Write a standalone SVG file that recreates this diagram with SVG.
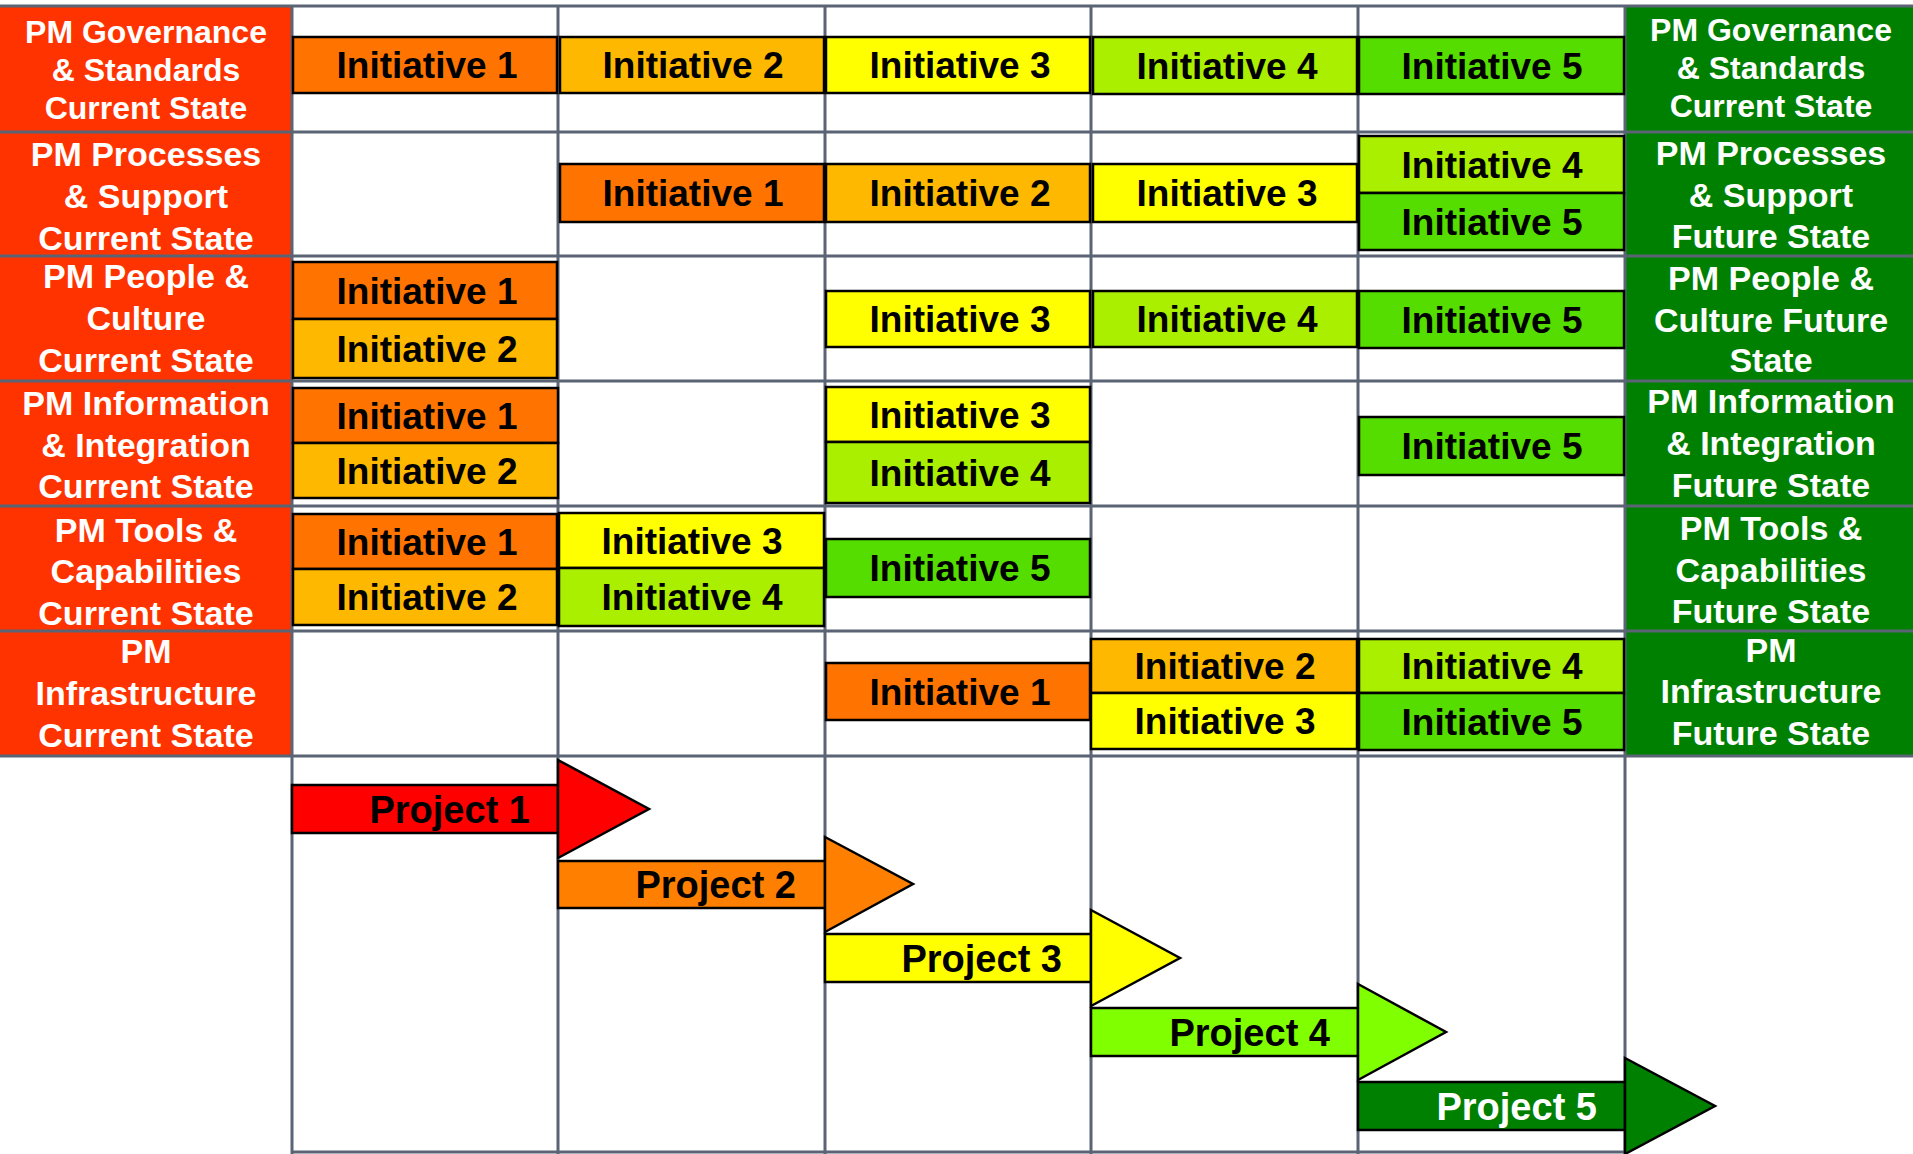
<svg xmlns="http://www.w3.org/2000/svg" width="1913" height="1154" viewBox="0 0 1913 1154">
<style>
.bx{stroke:#000;stroke-width:2.5}
.it{font-family:"Liberation Sans",Arial,sans-serif;font-weight:bold;font-size:37px;text-anchor:middle;fill:#000}
.pt{font-family:"Liberation Sans",Arial,sans-serif;font-weight:bold;font-size:38px;text-anchor:end;fill:#000}
.lb{font-family:"Liberation Sans",Arial,sans-serif;font-weight:bold;font-size:34px;text-anchor:middle;fill:#fff}
.lb0{font-size:32px}
.grid{stroke:#5B6475;stroke-width:3;fill:none}
.cur{fill:#FF3300}
.fut{fill:#008000}
.i1{fill:#FF7400}.i2{fill:#FFB800}.i3{fill:#FFFF00}.i4{fill:#AAEE00}.i5{fill:#55DD00}
.pa{stroke:#000;stroke-width:2.5}
</style>
<rect width="1913" height="1154" fill="#fff"/>

<g id="labels-current">
<rect class="cur" x="0" y="7" width="292" height="749"/>
</g>
<g id="labels-future">
<rect class="fut" x="1625" y="7" width="288" height="749"/>
</g>

<g id="grid" class="grid">
<line x1="0" y1="6" x2="1913" y2="6"/>
<line x1="0" y1="132" x2="1913" y2="132"/>
<line x1="0" y1="256" x2="1913" y2="256"/>
<line x1="0" y1="381" x2="1913" y2="381"/>
<line x1="0" y1="506" x2="1913" y2="506"/>
<line x1="0" y1="631" x2="1913" y2="631"/>
<line x1="0" y1="756" x2="1913" y2="756"/>
<line x1="292" y1="1152" x2="1625" y2="1152"/>
<line x1="292" y1="6" x2="292" y2="1154"/>
<line x1="558" y1="6" x2="558" y2="1154"/>
<line x1="825" y1="6" x2="825" y2="1154"/>
<line x1="1091" y1="6" x2="1091" y2="1154"/>
<line x1="1358" y1="6" x2="1358" y2="1154"/>
<line x1="1625" y1="6" x2="1625" y2="1154"/>
</g>

<g id="label-governance-current"><text class="lb lb0" x="146"><tspan x="146" y="43">PM Governance</tspan><tspan x="146" y="81">&amp; Standards</tspan><tspan x="146" y="119">Current State</tspan></text></g>
<g id="label-processes-current"><text class="lb" x="146"><tspan x="146" y="166">PM Processes</tspan><tspan x="146" y="208">&amp; Support</tspan><tspan x="146" y="250">Current State</tspan></text></g>
<g id="label-people-current"><text class="lb" x="146"><tspan x="146" y="288">PM People &amp;</tspan><tspan x="146" y="330">Culture</tspan><tspan x="146" y="372">Current State</tspan></text></g>
<g id="label-information-current"><text class="lb" x="146"><tspan x="146" y="415">PM Information</tspan><tspan x="146" y="457">&amp; Integration</tspan><tspan x="146" y="498">Current State</tspan></text></g>
<g id="label-tools-current"><text class="lb" x="146"><tspan x="146" y="542">PM Tools &amp;</tspan><tspan x="146" y="583">Capabilities</tspan><tspan x="146" y="625">Current State</tspan></text></g>
<g id="label-infrastructure-current"><text class="lb" x="146"><tspan x="146" y="663">PM</tspan><tspan x="146" y="705">Infrastructure</tspan><tspan x="146" y="747">Current State</tspan></text></g>

<g id="label-governance-future"><text class="lb lb0" x="1771"><tspan x="1771" y="41">PM Governance</tspan><tspan x="1771" y="79">&amp; Standards</tspan><tspan x="1771" y="117">Current State</tspan></text></g>
<g id="label-processes-future"><text class="lb" x="1771"><tspan x="1771" y="165">PM Processes</tspan><tspan x="1771" y="207">&amp; Support</tspan><tspan x="1771" y="248">Future State</tspan></text></g>
<g id="label-people-future"><text class="lb" x="1771"><tspan x="1771" y="290">PM People &amp;</tspan><tspan x="1771" y="332">Culture Future</tspan><tspan x="1771" y="372">State</tspan></text></g>
<g id="label-information-future"><text class="lb" x="1771"><tspan x="1771" y="413">PM Information</tspan><tspan x="1771" y="455">&amp; Integration</tspan><tspan x="1771" y="497">Future State</tspan></text></g>
<g id="label-tools-future"><text class="lb" x="1771"><tspan x="1771" y="540">PM Tools &amp;</tspan><tspan x="1771" y="582">Capabilities</tspan><tspan x="1771" y="623">Future State</tspan></text></g>
<g id="label-infrastructure-future"><text class="lb" x="1771"><tspan x="1771" y="662">PM</tspan><tspan x="1771" y="703">Infrastructure</tspan><tspan x="1771" y="745">Future State</tspan></text></g>

<!-- Row 0 -->
<g id="r0-i1"><rect class="bx i1" x="293" y="37" width="264" height="56"/><text class="it" x="427" y="78">Initiative 1</text></g>
<g id="r0-i2"><rect class="bx i2" x="560" y="37" width="264" height="56"/><text class="it" x="693" y="78">Initiative 2</text></g>
<g id="r0-i3"><rect class="bx i3" x="826" y="37" width="264" height="56"/><text class="it" x="960" y="78">Initiative 3</text></g>
<g id="r0-i4"><rect class="bx i4" x="1093" y="37" width="264" height="57"/><text class="it" x="1227" y="79">Initiative 4</text></g>
<g id="r0-i5"><rect class="bx i5" x="1359" y="37" width="265" height="57"/><text class="it" x="1492" y="79">Initiative 5</text></g>

<!-- Row 1 -->
<g id="r1-i1"><rect class="bx i1" x="560" y="164" width="264" height="58"/><text class="it" x="693" y="206">Initiative 1</text></g>
<g id="r1-i2"><rect class="bx i2" x="826" y="164" width="264" height="58"/><text class="it" x="960" y="206">Initiative 2</text></g>
<g id="r1-i3"><rect class="bx i3" x="1093" y="164" width="264" height="58"/><text class="it" x="1227" y="206">Initiative 3</text></g>
<g id="r1-i4"><rect class="bx i4" x="1359" y="136" width="265" height="57"/><text class="it" x="1492" y="178">Initiative 4</text></g>
<g id="r1-i5"><rect class="bx i5" x="1359" y="193" width="265" height="57"/><text class="it" x="1492" y="235">Initiative 5</text></g>

<!-- Row 2 -->
<g id="r2-i1"><rect class="bx i1" x="293" y="262" width="264" height="57"/><text class="it" x="427" y="304">Initiative 1</text></g>
<g id="r2-i2"><rect class="bx i2" x="293" y="319" width="264" height="59"/><text class="it" x="427" y="362">Initiative 2</text></g>
<g id="r2-i3"><rect class="bx i3" x="826" y="291" width="264" height="56"/><text class="it" x="960" y="332">Initiative 3</text></g>
<g id="r2-i4"><rect class="bx i4" x="1093" y="291" width="264" height="56"/><text class="it" x="1227" y="332">Initiative 4</text></g>
<g id="r2-i5"><rect class="bx i5" x="1359" y="291" width="265" height="57"/><text class="it" x="1492" y="333">Initiative 5</text></g>

<!-- Row 3 -->
<g id="r3-i1"><rect class="bx i1" x="293" y="388" width="265" height="55"/><text class="it" x="427" y="429">Initiative 1</text></g>
<g id="r3-i2"><rect class="bx i2" x="293" y="443" width="265" height="55"/><text class="it" x="427" y="484">Initiative 2</text></g>
<g id="r3-i3"><rect class="bx i3" x="826" y="387" width="264" height="55"/><text class="it" x="960" y="428">Initiative 3</text></g>
<g id="r3-i4"><rect class="bx i4" x="826" y="442" width="264" height="61"/><text class="it" x="960" y="486">Initiative 4</text></g>
<g id="r3-i5"><rect class="bx i5" x="1359" y="417" width="265" height="58"/><text class="it" x="1492" y="459">Initiative 5</text></g>

<!-- Row 4 -->
<g id="r4-i1"><rect class="bx i1" x="293" y="514" width="264" height="55"/><text class="it" x="427" y="555">Initiative 1</text></g>
<g id="r4-i2"><rect class="bx i2" x="293" y="569" width="264" height="56"/><text class="it" x="427" y="610">Initiative 2</text></g>
<g id="r4-i3"><rect class="bx i3" x="559" y="513" width="265" height="55"/><text class="it" x="692" y="554">Initiative 3</text></g>
<g id="r4-i4"><rect class="bx i4" x="559" y="568" width="265" height="58"/><text class="it" x="692" y="610">Initiative 4</text></g>
<g id="r4-i5"><rect class="bx i5" x="826" y="539" width="264" height="58"/><text class="it" x="960" y="581">Initiative 5</text></g>

<!-- Row 5 -->
<g id="r5-i1"><rect class="bx i1" x="826" y="663" width="264" height="57"/><text class="it" x="960" y="705">Initiative 1</text></g>
<g id="r5-i2"><rect class="bx i2" x="1091" y="639" width="266" height="54"/><text class="it" x="1225" y="679">Initiative 2</text></g>
<g id="r5-i3"><rect class="bx i3" x="1091" y="693" width="266" height="56"/><text class="it" x="1225" y="734">Initiative 3</text></g>
<g id="r5-i4"><rect class="bx i4" x="1359" y="639" width="265" height="54"/><text class="it" x="1492" y="679">Initiative 4</text></g>
<g id="r5-i5"><rect class="bx i5" x="1359" y="693" width="265" height="57"/><text class="it" x="1492" y="735">Initiative 5</text></g>

<!-- Projects -->
<g id="project-1">
<rect class="pa" fill="#FF0000" x="292" y="785" width="266" height="48"/>
<polygon class="pa" fill="#FF0000" points="558,760 649,809 558,858"/>
<text class="pt" x="530" y="823">Project 1</text>
</g>
<g id="project-2">
<rect class="pa" fill="#FF8000" x="558" y="861" width="267" height="47"/>
<polygon class="pa" fill="#FF8000" points="825,837 913,884 825,932"/>
<text class="pt" x="796" y="898">Project 2</text>
</g>
<g id="project-3">
<rect class="pa" fill="#FFFF00" x="825" y="934" width="266" height="48"/>
<polygon class="pa" fill="#FFFF00" points="1091,910 1180,958 1091,1006"/>
<text class="pt" x="1062" y="972">Project 3</text>
</g>
<g id="project-4">
<rect class="pa" fill="#80FF00" x="1091" y="1008" width="267" height="48"/>
<polygon class="pa" fill="#80FF00" points="1358,984 1446,1032 1358,1080"/>
<text class="pt" x="1330" y="1046">Project 4</text>
</g>
<g id="project-5">
<rect class="pa" fill="#008000" x="1358" y="1082" width="267" height="48"/>
<polygon class="pa" fill="#008000" points="1625,1058 1715,1106 1625,1154"/>
<text class="pt" x="1597" y="1120" fill="#fff" style="fill:#fff">Project 5</text>
</g>
</svg>
